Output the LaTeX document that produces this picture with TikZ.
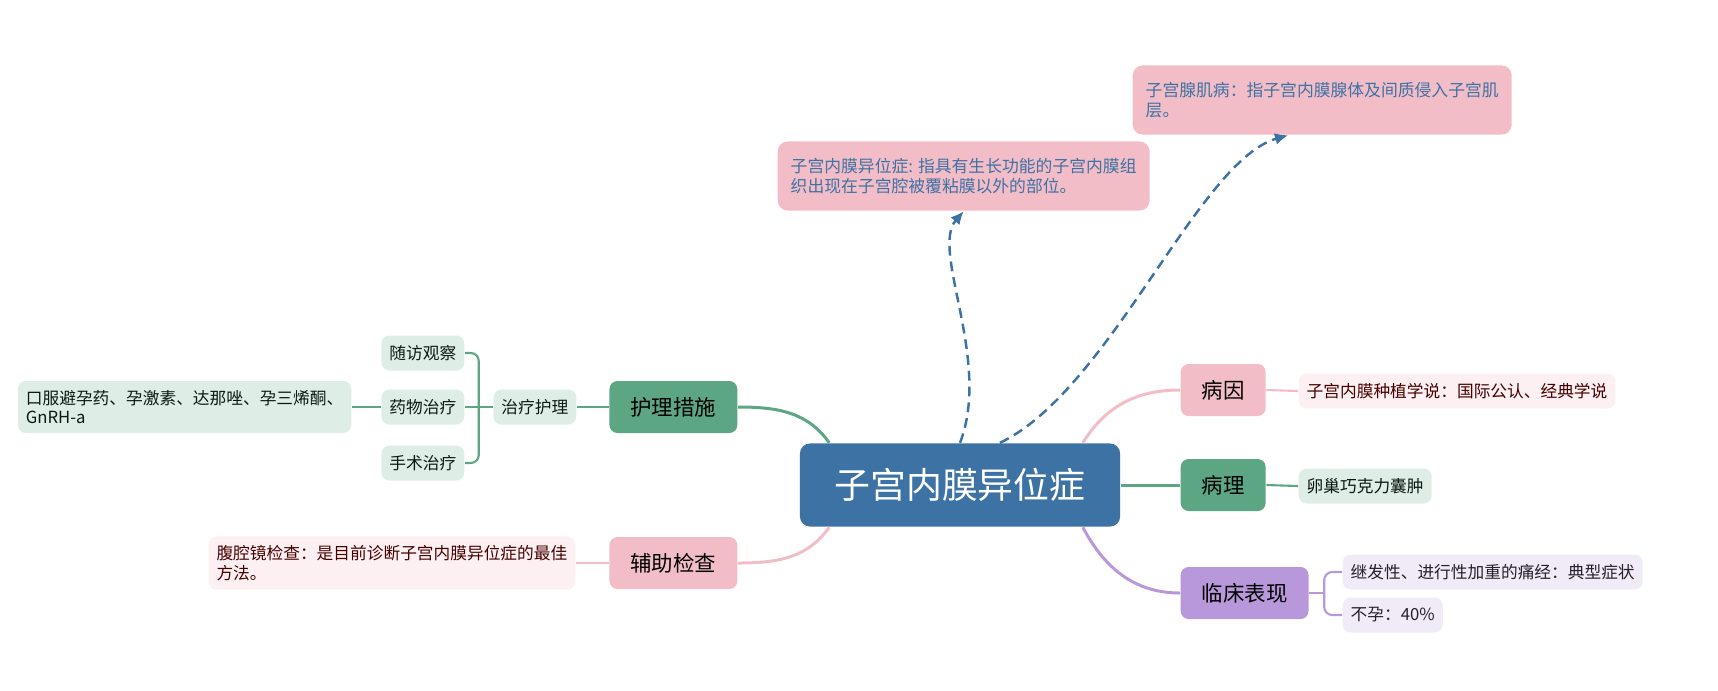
\documentclass[tikz,border=0pt]{standalone}
\usepackage{fontspec}
\setmainfont{Noto Sans CJK SC}
\usetikzlibrary{calc}
\usetikzlibrary{arrows.meta}

\definecolor{mainblue}{HTML}{3D72A4}
\definecolor{greenm}{HTML}{5CA683}
\definecolor{pinkm}{HTML}{F2BDC6}
\definecolor{purplem}{HTML}{B897DA}
\definecolor{greenl}{HTML}{DEEDE6}
\definecolor{pinkl}{HTML}{FCF0F2}
\definecolor{purplel}{HTML}{F1EAF7}

\tikzset{
  centre/.style={fill=mainblue, text=white, rounded corners=0.1cm, minimum width=3.2cm,
    minimum height=0.83cm, font=\fontsize{10.2pt}{12pt}\selectfont},
  note/.style={fill=pinkm, text=mainblue, rounded corners=0.1cm, align=left, anchor=west,
    inner xsep=0.13cm, inner ysep=0.165cm, font=\fontsize{4.78pt}{5.8pt}\selectfont},
  branch/.style={rounded corners=0.08cm, minimum height=0.52cm, inner xsep=0.21cm,
    text=black, font=\fontsize{6.1pt}{7pt}\selectfont},
  leaf/.style={rounded corners=0.08cm, minimum height=0.35cm, inner xsep=0.08cm, inner ysep=0.09cm,
    align=left, font=\fontsize{4.75pt}{5.6pt}\selectfont},
  pinkleaf/.style={leaf, fill=pinkl, text=black!60!red!70!black},
  greenleaf/.style={leaf, fill=greenl, text=black!85!greenm},
  purpleleaf/.style={leaf, fill=purplel, text=black!80!purplem},
  link/.style={line width=0.85pt},
  sublink/.style={line width=0.6pt, rounded corners=0.08cm},
  dashlink/.style={mainblue, line width=0.7pt, dash pattern=on 2.8pt off 1.7pt,
    -{Latex[length=0.13cm,width=0.12cm]}},
}

\begin{document}
\begin{tikzpicture}[x=0.01cm, y=-0.01cm]
\useasboundingbox (0,0) rectangle (1718,690);

% centre and notes
\node[centre] (endo) at (960,485) {子宫内膜异位症};
\node[note] (defn) at (777,176) {子宫内膜异位症: 指具有生长功能的子宫内膜组\\织出现在子宫腔被覆粘膜以外的部位。};
\node[note] (adeno) at (1132,100) {子宫腺肌病：指子宫内膜腺体及间质侵入子宫肌\\层。};

% right side
\node[branch, fill=pinkm, anchor=west] (cause) at (1180,390) {病因};
\node[branch, fill=greenm, anchor=west] (patho) at (1180,485) {病理};
\node[branch, fill=purplem, anchor=west] (clinic) at (1180,593) {临床表现};
\node[pinkleaf, anchor=west] (implant) at (1298,391) {子宫内膜种植学说：国际公认、经典学说};
\node[greenleaf, anchor=west] (cyst) at (1298,486) {卵巢巧克力囊肿};
\node[purpleleaf, anchor=west] (dysmen) at (1342,572) {继发性、进行性加重的痛经：典型症状};
\node[purpleleaf, anchor=west] (infert) at (1342,615) {不孕：40\%};

% left side
\node[branch, fill=greenm, anchor=east] (nursing) at (738,407) {护理措施};
\node[branch, fill=pinkm, anchor=east] (aux) at (738,563) {辅助检查};
\node[greenleaf, anchor=east] (treat) at (577,407) {治疗护理};
\node[greenleaf, anchor=east] (follow) at (465,353) {随访观察};
\node[greenleaf, anchor=east] (drug) at (465,407) {药物治疗};
\node[greenleaf, anchor=east] (surg) at (465,463) {手术治疗};
\node[greenleaf, anchor=east] (drugs) at (352,407) {口服避孕药、孕激素、达那唑、孕三烯酮、\\GnRH-a};
\node[pinkleaf, anchor=east] (lapa) at (576,563) {腹腔镜检查：是目前诊断子宫内膜异位症的最佳\\方法。};

% joints
\coordinate (nwjoin) at ($(endo.north west)+(30,0)$);
\coordinate (swjoin) at ($(endo.south west)+(30,0)$);
\coordinate (nejoin) at ($(endo.north east)+(-38,0)$);
\coordinate (sejoin) at ($(endo.south east)+(-38,0)$);
\coordinate (arrjoin) at ($(endo.north)+(40,0)$);
\coordinate (adenotip) at ($(adeno.south west)+(156,0)$);
\coordinate (treatjoin) at ($(treat.west)+(-14,0)$);
\coordinate (clinjoin) at ($(clinic.east)+(15,0)$);

% main links
\draw[link, greenm] (nwjoin) to[out=125,in=0] (nursing.east);
\draw[link, pinkm] (swjoin) to[out=235,in=0] (aux.east);
\draw[link, pinkm] (nejoin) to[out=58,in=180] (cause.west);
\draw[link, greenm] (endo.east) -- (patho.west);
\draw[link, purplem] (sejoin) to[out=-62,in=180] (clinic.west);

% sub links
\draw[sublink, pinkm] (cause.east) -- (implant.west);
\draw[sublink, greenm] (patho.east) -- (cyst.west);
\draw[sublink, purplem] (clinic.east) -- (clinjoin);
\draw[sublink, purplem] (dysmen.west) -| (clinjoin);
\draw[sublink, purplem] (infert.west) -| (clinjoin);
\draw[sublink, greenm] (nursing.west) -- (treat.east);
\draw[sublink, greenm] (treat.west) -- (treatjoin);
\draw[sublink, greenm] (follow.east) -| (treatjoin);
\draw[sublink, greenm] (drug.east) -- (treatjoin);
\draw[sublink, greenm] (surg.east) -| (treatjoin);
\draw[sublink, greenm] (drug.west) -- (drugs.east);
\draw[sublink, pinkm] (aux.west) -- (lapa.east);

% dashed links
\draw[dashlink] (endo.north) .. controls (992,360) and (930,250) .. (defn.south);
\draw[dashlink] (arrjoin) .. controls (1110,390) and (1198,161) .. (adenotip);
\end{tikzpicture}
\end{document}
